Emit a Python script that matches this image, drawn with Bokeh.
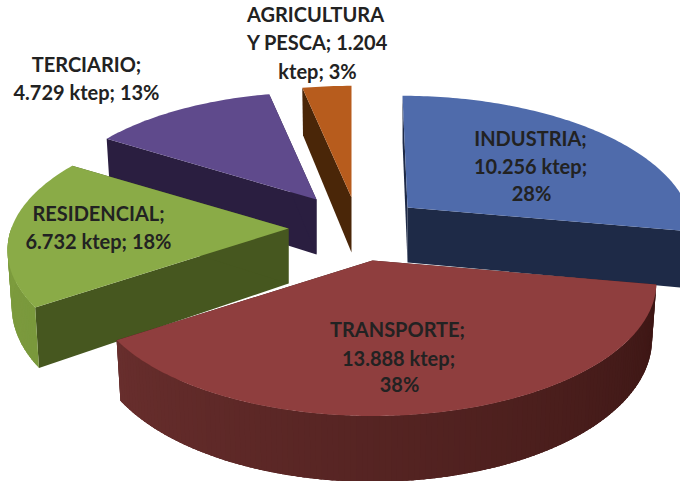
import math
from bokeh.plotting import figure
from bokeh.models import Range1d, ColumnDataSource
from bokeh.core.properties import value
from bokeh.embed import file_html
from bokeh.resources import INLINE

# data
categories = ["INDUSTRIA", "TRANSPORTE", "RESIDENCIAL", "TERCIARIO", "AGRICULTURA Y PESCA"]
ktep = [10256, 13888, 6732, 4729, 1204]

label_lines = [
    ["INDUSTRIA;", "10.256 ktep;", "28%"],
    ["TRANSPORTE;", "13.888 ktep;", "38%"],
    ["RESIDENCIAL;", "6.732 ktep; 18%"],
    ["TERCIARIO;", "4.729 ktep; 13%"],
    ["AGRICULTURA", "Y PESCA; 1.204", "ktep; 3%"],
]

# layout and style (picture pixels)
centers = [(407, 207), (372, 260), (288, 228), (316, 199), (351, 197)]
radius_scale = [1.0, 1.0, 0.99, 0.96, 1.0]
skew = [5, 0, 0, 0, 0]
label_pos = [
    [(530, 137), (530, 165), (531, 192)],
    [(397, 328), (398, 357), (399, 383)],
    [(98, 212), (98, 240)],
    [(86, 63), (86, 91)],
    [(315, 13), (317, 41), (317, 70)],
]
top_colors = ["#4f6bab", "#8f3e3e", "#8aab47", "#5f4a8c", "#b75c1d"]
cut_colors = ["#1e2a47", "#3f1a18", "#46571f", "#2a1e40", "#4a2608"]
rim_left = ["#1e2a47", "#733433", "#7d9c3e", "#2a1e40", "#4a2608"]
rim_right = ["#1e2a47", "#381412", "#6d8a35", "#2a1e40", "#4a2608"]
RX, RY, PERSP, DEPTH, TAPER = 280, 130, 0.164, 55, 0.015
draw_order = [3, 4, 0, 2, 1]


def rim(i, deg):
    c = centers[i]
    s = radius_scale[i]
    t = math.radians(deg)
    k = 1 / (1 + PERSP * math.cos(t))
    return (c[0] + s * RX * math.sin(t) * k - skew[i] * math.cos(t),
            c[1] - s * RY * math.cos(t) * k, DEPTH * k)


def low(i, x):
    return centers[i][0] + (x - centers[i][0]) * (1 - TAPER)


def mix(a, b, f):
    pa = [int(a[i:i + 2], 16) for i in (1, 3, 5)]
    pb = [int(b[i:i + 2], 16) for i in (1, 3, 5)]
    return "#%02x%02x%02x" % tuple(round(x + (y - x) * f) for x, y in zip(pa, pb))


p = figure(width=680, height=481, output_backend="svg", toolbar_location=None,
           x_range=Range1d(0, 680), y_range=Range1d(481, 0), min_border=0,
           outline_line_color=None, background_fill_color="white")
p.axis.visible = False
p.grid.visible = False

total = sum(ktep)
starts, a = [], 0.0
for v in ktep:
    starts.append(a)
    a += v / total * 360

xs, ys, cols = [], [], []


def add(px, py, col):
    xs.append(px)
    ys.append(py)
    cols.append(col)


for i in draw_order:
    c = centers[i]
    a0 = starts[i]
    a1 = a0 + ktep[i] / total * 360
    n = max(8, int(a1 - a0))
    angles = [a0 + (a1 - a0) * j / n for j in range(n + 1)]
    # cut faces
    for ang in (a0, a1):
        rx, ry, d = rim(i, ang)
        add([c[0], rx, low(i, rx), c[0]], [c[1], ry, ry + d, c[1] + DEPTH], cut_colors[i])
    # outer curved wall, front half only; each strip runs on under the next one
    for u, w in zip(angles[:-1], angles[1:]):
        mid = (u + w) / 2
        if 90 <= mid <= 270:
            x0, y0, d0 = rim(i, u)
            x1, y1, d1 = rim(i, min(w + 1.5, a1))
            col = mix(rim_left[i], rim_right[i], (270 - mid) / 180)
            add([x0, x1, low(i, x1), low(i, x0)], [y0, y1, y1 + d1, y0 + d0], col)
    # top
    pts = [rim(i, ang) for ang in angles]
    add([c[0]] + [q[0] for q in pts], [c[1]] + [q[1] for q in pts], top_colors[i])

p.patches(xs, ys, fill_color=cols, line_color=None)

tx, ty, tt = [], [], []
for lines, pos in zip(label_lines, label_pos):
    for s, (x, y) in zip(lines, pos):
        tx.append(x)
        ty.append(y)
        tt.append(s)
p.text(x="x", y="y", text="t", source=ColumnDataSource(dict(x=tx, y=ty, t=tt)),
       text_font=value("Lato"), text_font_style="bold", text_font_size="20px",
       text_color="#222222", text_align="center", text_baseline="middle")

open("out.html", "w").write(file_html(p, INLINE))
